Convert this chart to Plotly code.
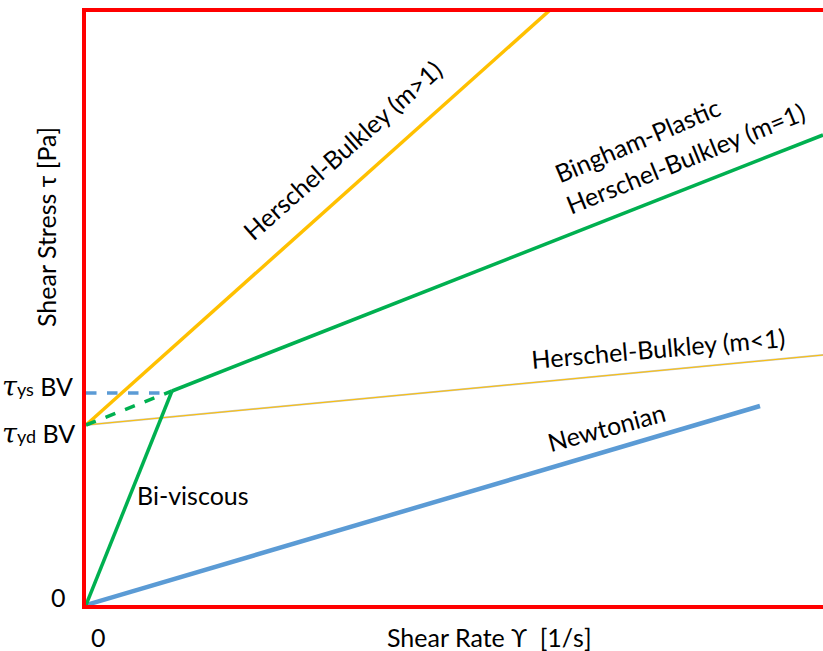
import plotly.graph_objects as go

# Data (arbitrary units; origin at 0,0)
newton_x = [0, 674]
newton_y = [0, 199]

hb_m_gt1_x = [0, 464]
hb_m_gt1_y = [180, 595]

bingham_x = [86, 737]
bingham_y = [214, 470]

bingham_dash_x = [0, 86]
bingham_dash_y = [180, 214]

biviscous_x = [0, 86]
biviscous_y = [0, 214]

tys_dash_x = [0, 86]
tys_dash_y = [212, 212]

hb_m_lt1_x = [0, 737]
hb_m_lt1_y = [180, 250]

X_RANGE = [0, 737]
Y_RANGE = [0, 593]

FONT = "Lato, 'Open Sans', sans-serif"
FS = 25

fig = go.Figure()
fig.add_trace(go.Scatter(x=newton_x, y=newton_y, mode="lines",
                         line=dict(color="#5B9BD5", width=4.5)))
fig.add_trace(go.Scatter(x=hb_m_lt1_x, y=hb_m_lt1_y, mode="lines",
                         line=dict(color="#C8C8C8", width=2)))
fig.add_trace(go.Scatter(x=hb_m_lt1_x, y=hb_m_lt1_y, mode="lines",
                         line=dict(color="#FFC000", width=1)))
fig.add_trace(go.Scatter(x=hb_m_gt1_x, y=hb_m_gt1_y, mode="lines",
                         line=dict(color="#FFC000", width=3.5)))
fig.add_trace(go.Scatter(x=tys_dash_x, y=tys_dash_y, mode="lines",
                         line=dict(color="#5B9BD5", width=3.5, dash="dash")))
fig.add_trace(go.Scatter(x=bingham_dash_x, y=bingham_dash_y, mode="lines",
                         line=dict(color="#00B050", width=3.5, dash="dash")))
fig.add_trace(go.Scatter(x=biviscous_x, y=biviscous_y, mode="lines",
                         line=dict(color="#00B050", width=3.5)))
fig.add_trace(go.Scatter(x=bingham_x, y=bingham_y, mode="lines",
                         line=dict(color="#00B050", width=3.5)))

# pixel -> paper conversion (plot area left=86, right=823, top=12, bottom=605)
def ann(text, px, py, angle=0, size=FS, xanchor="center"):
    fig.add_annotation(text=text, x=(px - 86) / 737, y=(605 - py) / 593,
                       xref="paper", yref="paper",
                       showarrow=False, textangle=angle, xanchor=xanchor,
                       yanchor="middle",
                       font=dict(family=FONT, size=size, color="black"))

ann("Herschel-Bulkley (m>1)", 342, 150, -41.5)
ann("Bingham-Plastic", 637, 140, -23)
ann("Herschel-Bulkley (m=1)", 685, 158, -22)
ann("Herschel-Bulkley (m<1)", 658, 348, -5)
ann("Newtonian", 606, 427, -15)
ann("Bi-viscous", 193, 495, 0)

ann("<span style='font-family:DejaVu Serif;font-size:27px'><i>τ</i></span><span style='font-size:18px'>ys</span> BV", 75, 386, 0, FS, "right")
ann("<span style='font-family:DejaVu Serif;font-size:27px'><i>τ</i></span><span style='font-size:18px'>yd</span> BV", 77, 433, 0, FS, "right")
ann("0", 58, 597)
ann("0", 98, 637)
ann("Shear Stress τ [Pa]", 46, 227, -90)
ann("Shear Rate ϒ  [1/s]", 490, 637)

fig.update_layout(
    width=823, height=651,
    margin=dict(l=86, r=0, t=12, b=46),
    plot_bgcolor="white", paper_bgcolor="white",
    showlegend=False,
    hovermode=False,
)
fig.update_xaxes(range=X_RANGE, showgrid=False, zeroline=False,
                 showticklabels=False, ticks="",
                 showline=True, linecolor="#FF0000", linewidth=4, mirror=True)
fig.update_yaxes(range=Y_RANGE, showgrid=False, zeroline=False,
                 showticklabels=False, ticks="",
                 showline=True, linecolor="#FF0000", linewidth=4)

fig.write_html(
    "out.html",
    config={"displayModeBar": False},
    post_script="document.body.style.margin='0';document.body.style.overflow='hidden';",
)
